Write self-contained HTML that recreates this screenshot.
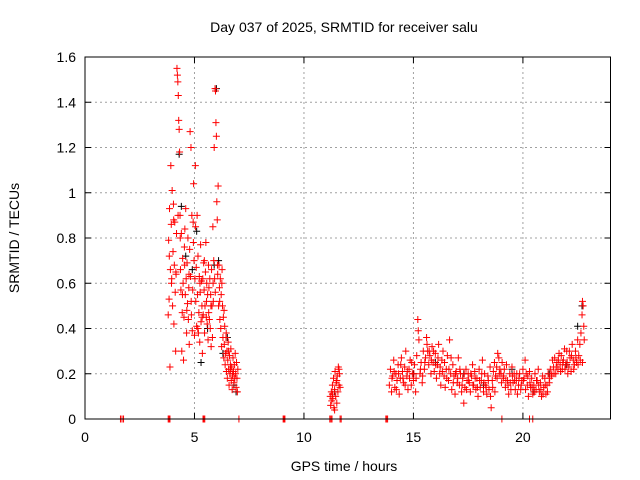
<!DOCTYPE html>
<html><head><meta charset="utf-8"><style>
body{margin:0;background:#fff;}
svg{display:block;font-family:"Liberation Sans",sans-serif;}
</style></head><body>
<svg id="chart" width="640" height="480" viewBox="0 0 640 480">
<rect width="640" height="480" fill="#fff"/>
<g id="grid"></g>
<g id="blk"></g>
<g id="red"></g>
<rect x="85" y="57" width="525.5" height="362" fill="none" stroke="#000" stroke-width="1"/>
<g id="ticks"></g>
<text x="344" y="32" font-size="14" text-anchor="middle">Day 037 of 2025, SRMTID for receiver salu</text>
<text x="344" y="471" font-size="14" text-anchor="middle">GPS time / hours</text>
<text transform="translate(19,238) rotate(-90)" font-size="14" text-anchor="middle">SRMTID / TECUs</text>
</svg>
<script>
const xTicks=[0,5,10,15,20];
const yTicks=[0,0.2,0.4,0.6,0.8,1,1.2,1.4,1.6];
const yTickLabels=["0","0.2","0.4","0.6","0.8","1","1.2","1.4","1.6"];
// [hour, SRMTID] pairs
const redBase=[[1.62,0],[1.69,0],[1.76,0],[3.8,0],[3.84,0],[3.88,0],[5.39,0],[5.43,0],[5.47,0],[7.03,0],[9.05,0],[9.09,0],[9.13,0],[11.18,0],[11.23,0],[11.28,0],[11.65,0],[11.7,0],[13.74,0],[13.78,0],[13.82,0],[19.04,0],[20.3,0],[20.45,0]];
const redA=[[3.8,0.46],[3.82,0.79],[3.84,0.53],[3.86,0.93],[3.88,0.23],[3.9,0.66],[3.92,1.12],[3.94,0.86],[3.96,0.62],[3.98,1.01],[4.0,0.5],[4.02,0.74],[4.04,0.95],[4.06,0.42],[4.08,0.68],[4.1,0.87],[4.12,0.56],[4.14,0.3],[4.16,0.64],[4.18,0.82],
[4.2,1.55],[4.22,1.52],[4.24,1.49],[4.26,1.43],[4.28,1.32],[4.3,1.28],[4.32,1.18],[4.34,0.9],[4.36,0.66],[4.38,0.57],[4.4,0.82],[4.42,0.3],[4.44,0.47],[4.46,0.71],[4.48,0.6],[4.5,0.26],[4.52,0.45],[4.54,0.76],[4.56,0.84],[4.58,0.55],
[4.6,0.93],[4.62,0.62],[4.64,0.38],[4.66,0.69],[4.68,0.51],[4.7,0.8],[4.72,0.44],[4.74,0.58],[4.76,0.33],[4.78,0.75],[4.8,1.27],[4.82,0.63],[4.84,1.2],[4.86,0.46],[4.88,0.9],[4.9,0.39],[4.92,0.57],[4.94,0.87],[4.96,1.04],[4.98,0.7],
[5.0,0.37],[5.02,0.62],[5.04,1.12],[5.06,0.52],[5.08,0.67],[5.1,0.41],[5.12,0.9],[5.14,0.55],[5.16,0.72],[5.18,0.38],[5.2,0.47],[5.22,0.63],[5.24,0.34],[5.26,0.56],[5.28,0.77],[5.3,0.43],[5.32,0.61],[5.34,0.5],[5.36,0.29],[5.38,0.62],
[5.4,0.46],[5.42,0.69],[5.44,0.57],[5.46,0.38],[5.48,0.5],[5.5,0.65],[5.52,0.78],[5.54,0.45],[5.56,0.6],[5.58,0.42],[5.6,0.55],[5.62,0.35],[5.64,0.68],[5.66,0.58],[5.68,0.44],[5.7,0.62],[5.72,0.4],[5.74,0.55],[5.76,0.32],[5.78,0.66],
[5.8,0.5],[5.82,0.36],[5.84,0.85],[5.86,0.52],[5.88,0.7],[5.9,1.2],[5.92,0.62],[5.94,1.46],[5.96,1.45],[5.98,1.31],[6.0,1.25],[6.02,0.96],[6.04,0.88],[6.06,0.64],[6.08,1.03],[6.1,0.5],[6.12,0.68],[6.14,0.58],[6.16,0.44],[6.18,0.62],
[6.2,0.4],[6.22,0.55],[6.24,0.32],[6.26,0.66],[6.28,0.5],[6.3,0.36],[6.32,0.45],[6.34,0.27],[6.36,0.33],[6.38,0.41],[6.4,0.24],[6.42,0.29],[6.44,0.36],[6.46,0.21],[6.48,0.3],[6.5,0.18],[6.52,0.26],[6.54,0.34],[6.56,0.22],[6.58,0.15],
[6.6,0.28],[6.62,0.2],[6.64,0.24],[6.66,0.31],[6.68,0.17],[6.7,0.23],[6.72,0.13],[6.74,0.19],[6.76,0.27],[6.78,0.21],[6.8,0.16],[6.82,0.24],[6.84,0.18],[6.86,0.29],[6.88,0.2],[6.9,0.14],[6.92,0.25],[6.94,0.18],[6.96,0.12],[6.98,0.22],
[3.85,0.72],[3.95,0.6],[4.05,0.88],[4.15,0.65],[4.25,0.9],[4.35,0.8],[4.45,0.55],[4.55,0.68],[4.65,0.48],[4.75,0.64],[4.85,0.52],[4.95,0.78],[5.05,0.85],[5.15,0.4],[5.25,0.6],[5.35,0.45],[5.45,0.7],[5.55,0.52],[5.65,0.47],[5.75,0.5],[5.85,0.6],[5.95,0.56],[6.05,0.68],[6.15,0.52],[6.25,0.6],[6.35,0.48],[6.45,0.38],[6.55,0.3],[6.65,0.22],[6.75,0.2]];
const redB=[[11.2,0.1],[11.22,0.06],[11.25,0.12],[11.27,0.08],[11.3,0.15],[11.32,0.09],[11.35,0.18],[11.37,0.05],[11.4,0.13],[11.42,0.21],[11.45,0.1],[11.47,0.16],[11.5,0.07],[11.52,0.19],[11.55,0.12],[11.57,0.23],[11.6,0.15],[11.62,0.2],[11.65,0.14],[11.3,0.11],[11.4,0.04],[11.5,0.17],[11.6,0.22]];
const redC=[[13.9,0.15],[13.95,0.22],[14.0,0.12],[14.05,0.19],[14.1,0.26],[14.15,0.14],[14.2,0.2],[14.25,0.17],[14.3,0.24],[14.35,0.11],[14.4,0.18],[14.45,0.27],[14.5,0.21],[14.55,0.16],[14.6,0.23],[14.65,0.3],[14.7,0.19],[14.75,0.13],[14.8,0.22],[14.85,0.26],[14.9,0.15],[14.95,0.2],
[15.0,0.17],[15.05,0.24],[15.1,0.12],[15.15,0.28],[15.2,0.44],[15.22,0.39],[15.25,0.35],[15.3,0.2],[15.35,0.25],[15.4,0.16],[15.45,0.3],[15.5,0.22],[15.55,0.27],[15.6,0.36],[15.62,0.33],[15.65,0.3],[15.7,0.24],[15.75,0.28],[15.8,0.2],[15.85,0.32],[15.9,0.25],[15.95,0.21],
[16.0,0.29],[16.05,0.18],[16.1,0.24],[16.15,0.33],[16.2,0.2],[16.25,0.15],[16.3,0.26],[16.35,0.3],[16.4,0.19],[16.45,0.14],[16.5,0.22],[16.55,0.28],[16.6,0.17],[16.65,0.35],[16.7,0.2],[16.75,0.13],[16.8,0.24],[16.85,0.19],[16.9,0.11],[16.95,0.21],
[17.0,0.16],[17.05,0.27],[17.1,0.15],[17.15,0.2],[17.2,0.12],[17.25,0.18],[17.3,0.07],[17.35,0.14],[17.4,0.22],[17.45,0.17],[17.5,0.2],[17.55,0.16],[17.6,0.12],[17.65,0.19],[17.7,0.24],[17.75,0.15],[17.8,0.21],[17.85,0.13],[17.9,0.18],[17.95,0.1],
[18.0,0.22],[18.05,0.14],[18.1,0.17],[18.15,0.26],[18.2,0.12],[18.25,0.2],[18.3,0.15],[18.35,0.11],[18.4,0.19],[18.45,0.13],[18.5,0.23],[18.55,0.05],[18.6,0.17],[18.65,0.21],[18.7,0.25],[18.75,0.19],[18.8,0.23],[18.85,0.29],[18.9,0.27],[18.95,0.22],
[19.0,0.2],[19.05,0.25],[19.1,0.18],[19.15,0.22],[19.2,0.14],[19.25,0.24],[19.3,0.17],[19.35,0.11],[19.4,0.2],[19.45,0.13],[19.5,0.23],[19.55,0.16],[19.6,0.2],[19.65,0.13],[19.7,0.17],[19.75,0.11],[19.8,0.15],[19.85,0.2],[19.9,0.13],[19.95,0.17],
[20.0,0.22],[20.05,0.18],[20.1,0.26],[20.15,0.2],[20.2,0.15],[20.25,0.1],[20.3,0.21],[20.35,0.14],[20.4,0.18],[20.45,0.11],[20.5,0.15],[20.55,0.2],[20.6,0.13],[20.65,0.17],[20.7,0.22],[20.75,0.12],[20.8,0.16],[20.85,0.1],[20.9,0.19],[20.95,0.14],
[21.0,0.18],[21.05,0.11],[21.1,0.15],[21.15,0.2],[21.2,0.16],[21.25,0.22],[21.3,0.19],[21.35,0.26],[21.4,0.23],[21.45,0.27],[21.5,0.2],[21.55,0.25],[21.6,0.22],[21.65,0.29],[21.7,0.24],[21.75,0.28],[21.8,0.22],[21.85,0.26],[21.9,0.31],[21.95,0.24],
[22.0,0.3],[22.05,0.2],[22.1,0.23],[22.15,0.27],[22.2,0.21],[22.25,0.33],[22.3,0.26],[22.35,0.24],[22.4,0.3],[22.45,0.25],[22.5,0.35],[22.55,0.28],[22.6,0.33],[22.65,0.38],[22.7,0.46],[22.72,0.52],[22.75,0.5],[22.78,0.41],[22.8,0.35],
[14.02,0.18],[14.12,0.21],[14.22,0.13],[14.32,0.2],[14.42,0.24],[14.52,0.18],[14.62,0.15],[14.72,0.21],[14.82,0.18],[14.92,0.25],[15.02,0.2],[15.12,0.18],[15.32,0.22],[15.42,0.19],[15.52,0.25],[15.72,0.3],[15.82,0.26],[15.92,0.3],[16.02,0.24],[16.12,0.27],[16.22,0.23],[16.32,0.21],[16.42,0.25],[16.52,0.18],[16.62,0.22],[16.72,0.27],[16.82,0.16],[16.92,0.2],[17.02,0.18],[17.12,0.22],[17.22,0.15],[17.32,0.2],[17.42,0.13],[17.52,0.17],[17.62,0.2],[17.72,0.15],[17.82,0.18],[17.92,0.14],[18.02,0.17],[18.12,0.2],[18.22,0.16],[18.32,0.14],[18.42,0.17],[18.52,0.1],[18.62,0.14],[18.72,0.12],[18.82,0.18],[18.92,0.2],[19.02,0.16],[19.12,0.19],[19.22,0.17],[19.32,0.15],[19.42,0.16],[19.52,0.19],[19.62,0.17],[19.72,0.2],[19.82,0.18],[19.92,0.15],[20.02,0.17],[20.12,0.13],[20.22,0.19],[20.32,0.16],[20.42,0.14],[20.52,0.12],[20.62,0.17],[20.72,0.15],[20.82,0.13],[20.92,0.11],[21.02,0.15],[21.12,0.12],[21.22,0.18],[21.32,0.2],[21.42,0.2],[21.52,0.23],[21.62,0.26],[21.72,0.21],[21.82,0.25],[21.92,0.22],[22.02,0.25],[22.12,0.3],[22.22,0.28],[22.32,0.22],[22.42,0.27],[22.52,0.24],[22.62,0.26],[22.72,0.25]];
const blk=[[4.3,1.17],[4.4,0.94],[4.6,0.72],[4.9,0.66],[5.1,0.83],[5.3,0.25],[5.6,0.4],[5.9,0.68],[6.0,1.46],[6.1,0.7],[6.3,0.29],[6.5,0.36],[6.8,0.15],[6.9,0.12],[11.4,0.12],[15.0,0.2],[16.0,0.25],[17.3,0.2],[18.2,0.15],[19.5,0.22],[20.5,0.12],[21.2,0.2],[22.0,0.24],[22.5,0.41],[22.7,0.5]];

const L=85,R=610.5,T=57,B=419,xMax=24,yMax=1.6;
const xs=v=>L+(R-L)*v/xMax, ys=v=>B-(B-T)*v/yMax;
const NS="http://www.w3.org/2000/svg";
function mk(tag,parent){const e=document.createElementNS(NS,tag);parent.appendChild(e);return e;}
const grid=document.getElementById('grid'),ticks=document.getElementById('ticks');
xTicks.forEach((t)=>{
  const x=xs(t);
  if(t>0){const g=mk('line',grid);g.setAttribute('x1',x);g.setAttribute('x2',x);g.setAttribute('y1',T);g.setAttribute('y2',B);g.setAttribute('stroke','#a0a0a0');g.setAttribute('stroke-dasharray','2,3');
  
  }
  const tk=mk('path',ticks);tk.setAttribute('d',`M${x},${B}v-6M${x},${T}v6`);tk.setAttribute('stroke','#000');
  
  
  const lb=mk('text',ticks);lb.setAttribute('x',x);lb.setAttribute('y',B+23);lb.setAttribute('font-size','14');lb.setAttribute('text-anchor','middle');lb.textContent=t;
  
  
});
yTicks.forEach((t,i)=>{
  const y=ys(t);
  if(t>0&&t<yMax){const g=mk('line',grid);g.setAttribute('x1',L);g.setAttribute('x2',R);g.setAttribute('y1',y);g.setAttribute('y2',y);g.setAttribute('stroke','#a0a0a0');g.setAttribute('stroke-dasharray','2,3');
  
  }
  const tk=mk('path',ticks);tk.setAttribute('d',`M${L},${y}h6M${R},${y}h-6`);tk.setAttribute('stroke','#000');
  
  
  const lb=mk('text',ticks);lb.setAttribute('x',L-9);lb.setAttribute('y',y+5);lb.setAttribute('font-size','14');lb.setAttribute('text-anchor','end');lb.textContent=yTickLabels[i];
  
  
});
function plot(gid,pts,col){
  const g=document.getElementById(gid);
  pts.forEach(([t,v])=>{
    const x=xs(t),y=ys(v);
    const p=mk('path',g);
    p.setAttribute('d',`M${x-3.5},${y}h7M${x},${y-3.5}v7`);
    p.setAttribute('stroke',col);p.setAttribute('stroke-width','1');
    
    
  });
}
plot('blk',blk,'#000');
plot('red',redBase,'#ff0000');
plot('red',redA,'#ff0000');
plot('red',redB,'#ff0000');
plot('red',redC,'#ff0000');
</script>
</body></html>
